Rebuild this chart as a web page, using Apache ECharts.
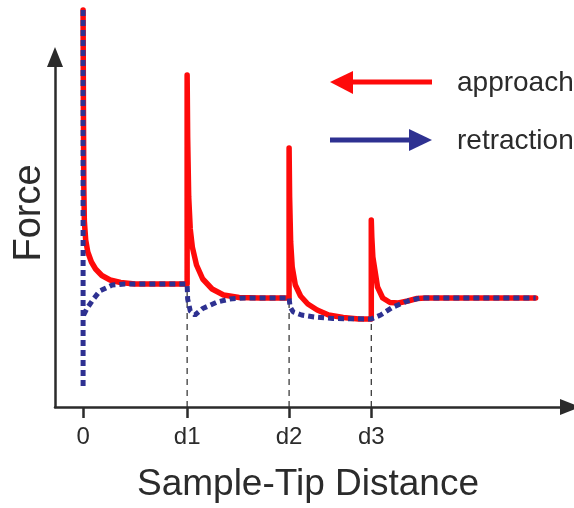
<!DOCTYPE html>
<html>
<head>
<meta charset="utf-8">
<script src="https://cdn.jsdelivr.net/npm/echarts@6/dist/echarts.min.js"></script>
<style>
  html, body { margin: 0; padding: 0; background: #fff; }
  #chart { width: 574px; height: 508px; }
</style>
</head>
<body>
<div id="chart"></div>
<script>
// tick positions on the distance axis and their labels
const tickPos = [0, 10, 19.8, 27.7];
const tickLabels = ['0', 'd1', 'd2', 'd3'];
// height where each dashed guide meets the curves (d1, d2, d3)
const guideTop = [12.3, 10.9, 8.8];

// approach curve (red), [distance, force]
const approach = [
  [0, 39.7], [0.03, 30], [0.07, 22], [0.12, 18.6], [0.25, 16.7], [0.45, 15.5],
  [0.8, 14.5], [1.2, 13.8], [1.8, 13.15], [2.6, 12.7], [3.6, 12.45], [5.0, 12.3],
  [10.0, 12.3], [10.0, 33.2], [10.05, 27], [10.15, 21], [10.3, 17.8], [10.5, 16.0],
  [10.9, 14.2], [11.5, 12.8], [12.4, 11.8], [13.5, 11.2], [15.0, 10.95], [17.0, 10.9],
  [19.8, 10.9], [19.8, 25.9], [19.85, 21], [19.95, 16.5], [20.1, 14.0], [20.4, 12.2],
  [20.9, 11.1], [21.6, 10.3], [22.5, 9.7], [23.6, 9.2], [25.0, 8.95], [26.5, 8.8],
  [27.7, 8.8], [27.7, 18.7], [27.75, 17], [27.85, 15], [28.0, 14.0], [28.3, 12.0],
  [28.8, 10.9], [29.5, 10.45], [30.3, 10.4], [31.2, 10.6], [32.1, 10.85], [32.9, 10.9],
  [43.5, 10.9]
];

// retraction curve (blue dotted): the drop at 0 and the rest
const retractionDrop = [[0, 39.7], [0, 1.9]];
const retraction = [
  [0.05, 9.2], [0.4, 9.9], [1.0, 10.8], [1.6, 11.6], [2.8, 12.2], [4.0, 12.3],
  [10.0, 12.3], [10.05, 10.8], [10.3, 9.6], [10.75, 9.2], [11.5, 9.85], [12.9, 10.5],
  [14.1, 10.8], [15.5, 10.9], [19.8, 10.9], [19.9, 10.0], [20.2, 9.5], [21.0, 9.2],
  [22.2, 9.0], [24.0, 8.85], [27.7, 8.8], [28.6, 9.2], [29.8, 10.0], [31.2, 10.6],
  [32.4, 10.9], [43.5, 10.9]
];

const RED = '#fe0a0a';
const BLUE = '#2e3191';
const INK = '#2b2b2b';
const FONT = '"Liberation Sans", Arial, sans-serif';

const chart = echarts.init(document.getElementById('chart'));

const guides = guideTop.map((top, i) => ({
  type: 'line',
  data: [[tickPos[i + 1], 0], [tickPos[i + 1], top]],
  symbol: 'none',
  silent: true,
  z: 1,
  lineStyle: { color: INK, width: 1.2, type: [6, 5] },
}));

const option = {
  animation: false,
  grid: { left: 55, right: 4, top: 57, bottom: 101 },
  xAxis: {
    type: 'value',
    min: -2.7,
    max: 46.8,
    splitLine: { show: false },
    axisLine: {
      onZero: false,
      symbol: ['none', 'triangle'],
      symbolSize: [16, 20],
      lineStyle: { color: INK, width: 2.5 },
    },
    axisTick: {
      customValues: tickPos,
      length: 11,
      lineStyle: { color: INK, width: 2.5 },
    },
    axisLabel: {
      customValues: tickPos,
      margin: 18,
      color: INK,
      fontSize: 24,
      fontFamily: FONT,
      formatter(value) {
        const i = tickPos.indexOf(value);
        return i >= 0 ? tickLabels[i] : '';
      },
    },
  },
  yAxis: {
    type: 'value',
    min: 0,
    max: 35,
    splitLine: { show: false },
    axisTick: { show: false },
    axisLabel: { show: false },
    axisLine: {
      show: true,
      onZero: false,
      symbol: ['none', 'triangle'],
      symbolSize: [16, 20],
      lineStyle: { color: INK, width: 2.5 },
    },
  },
  series: guides.concat([
    {
      name: 'approach',
      type: 'line',
      data: approach,
      symbol: 'none',
      clip: false,
      z: 3,
      lineStyle: { color: RED, width: 5.5, cap: 'round', join: 'round' },
    },
    {
      name: 'retraction',
      type: 'line',
      data: retractionDrop,
      symbol: 'none',
      clip: false,
      z: 4,
      lineStyle: { color: BLUE, width: 5, type: [6, 4] },
    },
    {
      name: 'retraction',
      type: 'line',
      data: retraction,
      symbol: 'none',
      clip: false,
      z: 4,
      lineStyle: { color: BLUE, width: 5, type: [6, 4] },
    },
  ]),
  graphic: [
    {
      type: 'text',
      x: 30,
      y: 213,
      rotation: Math.PI / 2,
      style: { text: 'Force', fill: INK, font: '38px ' + FONT, align: 'center', verticalAlign: 'middle' },
    },
    {
      type: 'text',
      x: 308,
      y: 485,
      style: { text: 'Sample-Tip Distance', fill: INK, font: '37px ' + FONT, align: 'center', verticalAlign: 'middle' },
    },
    // legend: approach arrow (points left)
    { type: 'line', shape: { x1: 350, y1: 82, x2: 432, y2: 82 }, style: { stroke: RED, lineWidth: 5 } },
    { type: 'polygon', shape: { points: [[330, 82], [353, 71], [353, 94]] }, style: { fill: RED } },
    {
      type: 'text', x: 457, y: 83,
      style: { text: 'approach', fill: INK, font: '28px ' + FONT, align: 'left', verticalAlign: 'middle' },
    },
    // legend: retraction arrow (points right)
    { type: 'line', shape: { x1: 330, y1: 140, x2: 412, y2: 140 }, style: { stroke: BLUE, lineWidth: 5 } },
    { type: 'polygon', shape: { points: [[432, 140], [409, 129], [409, 151]] }, style: { fill: BLUE } },
    {
      type: 'text', x: 457, y: 141,
      style: { text: 'retraction', fill: INK, font: '28px ' + FONT, align: 'left', verticalAlign: 'middle' },
    },
  ],
};

chart.setOption(option);
</script>
</body>
</html>
